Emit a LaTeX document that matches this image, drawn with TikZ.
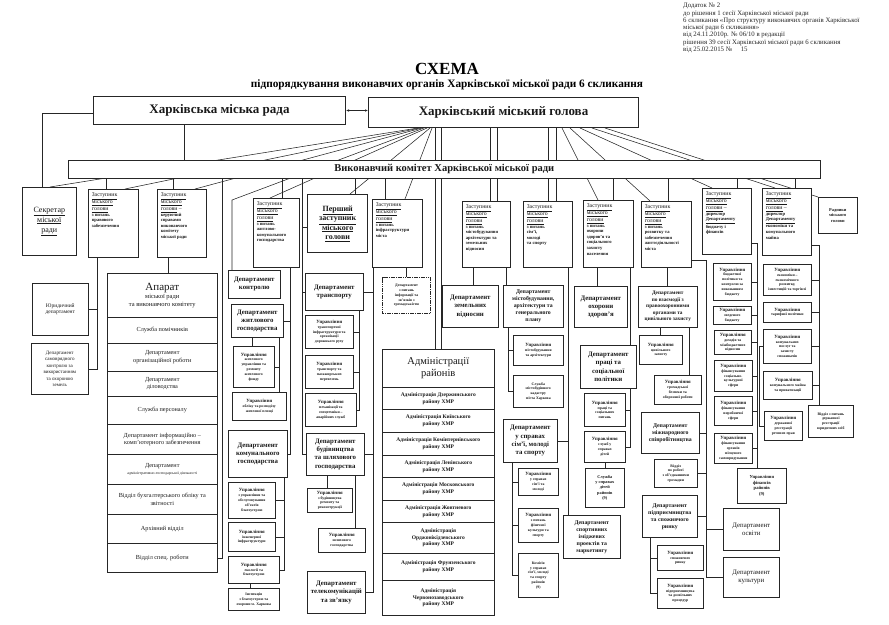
\documentclass[tikz,border=0pt]{standalone}
\usepackage{fontspec}
\setmainfont{Liberation Serif}
\usetikzlibrary{arrows.meta}
\pgfdeclarelayer{bg}
\pgfsetlayers{bg,main}
\newcommand{\DTf}{\fontsize{5.8}{7.2}\selectfont}
\newcommand{\DSf}{\fontsize{4.6}{5.6}\selectfont\bfseries}
\newcommand{\Up}{{\fontsize{4.8}{5.6}\selectfont Управління}}
\newcommand{\CB}[7]{\node[#1, minimum width={#5-#3}, minimum height={#6-#4}, anchor=north west] (#2) at (#3,#4) {#7};}
\newcommand{\DEP}[7]{\node[dbox, anchor=north west] (#1) at (#2,#3) {\parbox[c][\dimexpr#5pt-#3pt\relax][t]{\dimexpr#4pt-#2pt\relax}{\raggedright\leftskip=3.5pt\vspace*{3pt}{\DTf#6\par}{\DSf#7\par}}};}
\tikzset{
 box/.style={draw=black!85, fill=white, line width=0.6pt, inner sep=1pt, align=center, text=black!90},
 depb/.style={box, font=\fontsize{6.8}{8.2}\selectfont\bfseries},
 deps/.style={box, font=\fontsize{5.8}{7}\selectfont\bfseries},
 uprb/.style={box, font=\fontsize{3.8}{4.8}\selectfont\bfseries},
 rowb/.style={box, font=\fontsize{6.2}{7.4}\selectfont},
 admrow/.style={box, font=\fontsize{5.5}{6.8}\selectfont\bfseries},
 dbox/.style={draw=black!85, fill=white, line width=0.6pt, inner sep=0pt, text=black!90},
 ln/.style={draw=black!85, line width=0.55pt},
}
\begin{document}
\begin{tikzpicture}[x=1pt,y=-1pt]
\useasboundingbox (0,0) rectangle (889,624);
% header
\node[anchor=north west, align=left, inner sep=0pt, font=\fontsize{6.8}{7.3}\selectfont, text=black!85] (hdr) at (683,3) {Додаток № 2\\до рішення 1 сесії Харківської міської ради\\6 скликання «Про структуру виконавчих органів Харківської\\міської ради 6 скликання»\\від 24.11.2010р. № 06/10 в редакції\\рішення 39 сесії Харківської міської ради 6 скликання\\від 25.02.2015 № \phantom{00}15};
\node[font=\fontsize{17}{18}\selectfont\bfseries] (t1) at (447,69) {СХЕМА};
\node[font=\fontsize{11.3}{12.5}\selectfont\bfseries] (t2) at (447,85) {підпорядкування виконавчих органів Харківської міської ради 6 скликання};
% top
\CB{box, font=\fontsize{13}{14}\selectfont\bfseries, line width=1pt}{rada}{93}{96}{345}{124}{Харківська міська рада}
\CB{box, font=\fontsize{13}{14}\selectfont\bfseries, line width=1pt}{golova}{368}{97}{638}{127}{Харківський міський голова}
\CB{box, font=\fontsize{10.5}{12}\selectfont\bfseries}{vk}{68}{160}{820}{178}{Виконавчий комітет Харківської міської ради}
% deputies
\CB{box, font=\fontsize{8}{10}\selectfont}{sec}{22}{187}{76}{255}{\underline{Секретар}\\\underline{міської}\\\underline{ради}}
\DEP{d2}{88}{189}{138}{257}{\underline{Заступник}\\\underline{міського}\\\underline{голови}}{з питань\\правового\\забезпечення}
\DEP{d3}{157}{189}{206}{257}{\underline{Заступник}\\\underline{міського}\\\underline{голови} –}{керуючий\\справами\\виконавчого\\комітету\\міської ради}
\DEP{d4}{253}{198}{299}{267}{\underline{Заступник}\\\underline{міського}\\\underline{голови}}{з питань\\житлово-\\комунального\\господарства}
\CB{box, line width=1.4pt, font=\fontsize{8}{9.6}\selectfont\bfseries}{d5}{307}{194}{367}{252}{\underline{Перший}\\\underline{заступник}\\\underline{міського}\\\underline{голови}}
\DEP{d6}{372}{199}{422}{267}{\underline{Заступник}\\\underline{міського}\\\underline{голови}}{з питань\\інфраструктури\\міста}
\DEP{d7}{462}{201}{510}{267}{\underline{Заступник}\\\underline{міського}\\\underline{голови}}{з питань\\містобудування\\архітектури та\\земельних\\відносин}
\DEP{d8}{523}{201}{572}{267}{\underline{Заступник}\\\underline{міського}\\\underline{голови}}{з питань\\сім'ї,\\молоді\\та спорту}
\DEP{d9}{583}{200}{633}{267}{\underline{Заступник}\\\underline{міського}\\\underline{голови}}{з питань\\охорони\\здоров'я та\\соціального\\захисту\\населення}
\DEP{d10}{641}{201}{691}{267}{\underline{Заступник}\\\underline{міського}\\\underline{голови}}{з питань\\розвитку та\\забезпечення\\життєдіяльності\\міста}
\DEP{d11}{702}{188}{751}{254}{\underline{Заступник}\\\underline{міського}\\\underline{голови} –}{директор\\\underline{Департаменту}\\бюджету і\\фінансів}
\DEP{d12}{762}{188}{811}{255}{\underline{Заступник}\\\underline{міського}\\\underline{голови} –}{директор\\\underline{Департаменту}\\економіки та\\комунального\\майна}
\CB{box, font=\fontsize{4.4}{5.4}\selectfont\bfseries}{radn}{818}{197}{857}{233}{Радники\\міського\\голови}
% left column
\CB{box, font=\fontsize{5.5}{6.6}\selectfont}{yur}{32}{283}{88}{335}{Юридичний\\департамент}
\CB{box, font=\fontsize{5}{6.4}\selectfont}{samk}{31}{343}{88}{394}{Департамент\\самоврядного\\контролю за\\використанням\\та охороною\\земель}
% apparat
\CB{box, font=\fontsize{6.5}{7.8}\selectfont}{aph}{107}{273}{217}{317}{{\fontsize{11}{12}\selectfont Апарат}\\міської ради\\та виконавчого комітету}
\CB{rowb}{ap1}{107}{317}{217}{343}{Служба помічників}
\CB{rowb}{ap2}{107}{343}{217}{371}{Департамент\\організаційної роботи}
\CB{rowb}{ap3}{107}{371}{217}{396}{Департамент\\діловодства}
\CB{rowb}{ap4}{107}{396}{217}{424}{Служба персоналу}
\CB{rowb}{ap5}{107}{424}{217}{454}{Департамент інформаційно –\\комп'ютерного забезпечення}
\CB{rowb}{ap6}{107}{454}{217}{484}{Департамент\\{\fontsize{3.9}{5}\selectfont адміністративно-господарської діяльності}}
\CB{rowb}{ap7}{107}{484}{217}{514}{Відділ бухгалтерського обліку та\\звітності}
\CB{rowb}{ap8}{107}{514}{217}{543}{Архівний відділ}
\CB{rowb}{ap9}{107}{543}{217}{572}{Відділ спец. роботи}
% d4 column
\CB{depb}{kontr}{228}{270}{280}{298}{Департамент\\контролю}
\CB{depb}{zhytl}{231}{304}{283}{337}{Департамент\\житлового\\господарства}
\CB{uprb}{uzhf}{233}{346}{274}{387}{\Up\\житлового\\управління та\\ремонту\\житлового\\фонду}
\CB{uprb}{uobl}{232}{392}{286}{420}{\Up\\обліку та розподілу\\житлової площі}
\CB{depb}{komun}{228}{430}{287}{477}{Департамент\\комунального\\господарства}
\CB{uprb}{ublag}{228}{482}{275}{518}{\Up\\з управління та\\обслуговування\\об'єктів\\благоустрою}
\CB{uprb}{uinzh}{228}{522}{275}{551}{\Up\\інженерної\\інфраструктури}
\CB{uprb}{ueko}{228}{556}{279}{583}{\Up\\екології та\\благоустрою}
\CB{uprb}{insp}{228}{588}{279}{610}{Інспекція\\з благоустрою та\\охорони м. Харкова}
% first deputy / d6 column
\CB{depb}{trans}{305}{273}{363}{310}{Департамент\\транспорту}
\CB{uprb}{utinfr}{305}{315}{353}{348}{\Up\\транспортної\\інфраструктури та\\організації\\дорожнього руху}
\CB{uprb}{utpas}{305}{355}{353}{388}{\Up\\транспорту та\\пасажирських\\перевезень}
\CB{uprb}{umeh}{305}{393}{356}{426}{\Up\\механізації та\\спецтехніки –\\аварійних служб}
\CB{depb}{bud}{306}{433}{364}{475}{Департамент\\будівництва\\та шляхового\\господарства}
\CB{uprb}{ubud}{307}{488}{352}{512}{\Up\\з будівництва\\ремонту та\\реконструкції}
\CB{uprb}{ushl}{318}{528}{365}{552}{\Up\\шляхового\\господарства}
\CB{depb}{tele}{307}{571}{365}{613}{Департамент\\телекомунікацій\\та зв'язку}
\CB{uprb, line width=1.1pt, dash pattern=on 1.6pt off 0.7pt}{inf}{382}{277}{430}{313}{Департамент\\з питань\\інформації та\\зв'язків з\\громадськістю}
% administrations
\CB{box, font=\fontsize{10.5}{12.5}\selectfont}{adh}{382}{349}{494}{387}{Адміністрації\\районів}
\CB{admrow}{ad1}{382}{387}{494}{409}{Адміністрація Дзержинського\\району ХМР}
\CB{admrow}{ad2}{382}{409}{494}{432}{Адміністрація Київського\\району ХМР}
\CB{admrow}{ad3}{382}{432}{494}{455}{Адміністрація Комінтернівського\\району ХМР}
\CB{admrow}{ad4}{382}{455}{494}{477}{Адміністрація Ленінського\\району ХМР}
\CB{admrow}{ad5}{382}{477}{494}{500}{Адміністрація Московського\\району ХМР}
\CB{admrow}{ad6}{382}{500}{494}{522}{Адміністрація Жовтневого\\району ХМР}
\CB{admrow}{ad7}{382}{522}{494}{553}{Адміністрація\\Орджонікідзевського\\району ХМР}
\CB{admrow}{ad8}{382}{553}{494}{580}{Адміністрація Фрунзенського\\району ХМР}
\CB{admrow}{ad9}{382}{580}{494}{615}{Адміністрація\\Червонозаводського\\району ХМР}
% d7
\CB{depb}{zem}{442}{285}{498}{327}{Департамент\\земельних\\відносин}
\CB{deps}{mist}{503}{285}{563}{327}{Департамент\\містобудування,\\архітектури та\\генерального\\плану}
\CB{uprb}{umist}{513}{335}{563}{365}{\Up\\містобудування\\та архітектури}
\CB{uprb}{skad}{513}{375}{563}{407}{Служба\\містобудівного\\кадастру\\міста Харкова}
% d8
\CB{depb}{sim}{503}{419}{557}{462}{Департамент\\у справах\\сім'ї, молоді\\та спорту}
\CB{uprb}{usim}{518}{468}{558}{495}{\Up\\у справах\\сім'ї та\\молоді}
\CB{uprb}{usport}{518}{508}{558}{542}{\Up\\з питань\\фізичної\\культури та\\спорту}
\CB{uprb}{komis}{518}{553}{558}{597}{Комісія\\у справах\\сім'ї, молоді\\та спорту\\районів\\(9)}
\CB{deps}{sportim}{563}{515}{620}{558}{Департамент\\спортивних\\іміджевих\\проектів та\\маркетингу}
% d9
\CB{depb}{ohor}{574}{286}{627}{327}{Департамент\\охорони\\здоров'я}
\CB{depb}{prac}{580}{345}{636}{388}{Департамент\\праці та\\соціальної\\політики}
\CB{uprb}{uprac}{584}{393}{625}{426}{\Up\\праці та\\соціальних\\питань}
\CB{uprb}{usld}{584}{431}{625}{462}{\Up\\служб у\\справах\\дітей}
\CB{uprb, font=\fontsize{4.3}{5.3}\selectfont\bfseries}{sldr}{585}{468}{624}{507}{Служба\\у справах\\дітей\\районів\\(9)}
% d10
\CB{box, font=\fontsize{5.3}{6.5}\selectfont\bfseries}{vzaem}{638}{286}{697}{327}{Департамент\\по взаємодії з\\правоохоронними\\органами та\\цивільного захисту}
\CB{uprb}{ucz}{639}{335}{682}{364}{\Up\\цивільного\\захисту}
\CB{uprb}{ugb}{654}{375}{701}{404}{\Up\\громадської\\безпеки та\\оборонної роботи}
\CB{deps}{mizhn}{641}{412}{699}{453}{Департамент\\міжнародного\\співробітництва}
\CB{uprb}{vgrom}{654}{459}{697}{487}{Відділ\\по роботі\\з об'єднаннями\\громадян}
\CB{deps}{pidpr}{642}{495}{697}{537}{Департамент\\підприємництва\\та споживчого\\ринку}
\CB{uprb}{uspr}{657}{545}{703}{570}{\Up\\споживчого\\ринку}
\CB{uprb}{upidpr}{657}{578}{703}{608}{\Up\\підприємництва\\та дозвільних\\процедур}
\CB{box, font=\fontsize{6.8}{8.2}\selectfont}{osv}{723}{508}{779}{550}{Департамент\\освіти}
\CB{box, font=\fontsize{6.8}{8.2}\selectfont}{kult}{723}{557}{779}{597}{Департамент\\культури}
% d11
\CB{uprb}{f1}{713}{263}{751}{300}{\Up\\бюджетної\\політики та\\контролю за\\виконанням\\бюджету}
\CB{uprb}{f2}{713}{306}{751}{324}{\Up\\зведеного\\бюджету}
\CB{uprb}{f3}{714}{330}{751}{354}{\Up\\доходів та\\міжбюджетних\\відносин}
\CB{uprb}{f4}{714}{360}{752}{391}{\Up\\фінансування\\соціально-\\культурної\\сфери}
\CB{uprb}{f5}{714}{396}{752}{425}{\Up\\фінансування\\виробничої\\сфери}
\CB{uprb}{f6}{714}{433}{752}{463}{\Up\\фінансування\\органів\\місцевого\\самоврядування}
\CB{uprb, font=\fontsize{4.6}{5.6}\selectfont\bfseries}{fr}{737}{468}{786}{503}{Управління\\фінансів\\районів\\(9)}
% d12
\CB{uprb}{e1}{763}{264}{811}{295}{\Up\\економіки –\\економічного\\розвитку,\\інвестицій та торгівлі}
\CB{uprb}{e2}{763}{302}{811}{322}{\Up\\тарифної політики}
\CB{uprb}{e3}{763}{329}{811}{363}{\Up\\комунальних\\послуг та\\захисту\\споживачів}
\CB{uprb}{e4}{763}{371}{812}{399}{\Up\\комунального майна\\та приватизації}
\CB{uprb}{e5}{764}{411}{802}{440}{\Up\\державної\\реєстрації\\речових прав}
\CB{uprb}{vzdr}{808}{405}{853}{437}{Відділ з питань\\державної\\реєстрації\\юридичних осіб}
% ---------- connectors
\begin{pgfonlayer}{bg}
\draw[ln, {Latex[length=3pt,width=2.5pt]}-{Latex[length=3pt,width=2.5pt]}] (rada.east) -- (rada.east -| golova.west);
\draw[ln] (184,0 |- rada.south) -- (184,0 |- vk.north);
\draw[ln] (rada.west |- 0,113) -- (42,113) -- (42,0 |- sec.north);
% fans from the mayor
\draw[ln] (418,0 |- golova.south) -- (50,0 |- sec.north);
\draw[ln] (420,0 |- golova.south) -- (125,0 |- d2.north);
\draw[ln] (422,0 |- golova.south) -- (195,0 |- d3.north);
\draw[ln] (424,0 |- golova.south) -- (232,200) -- (232,0 |- kontr.north);
\draw[ln] (427,0 |- golova.south) -- (270,0 |- d4.north);
\draw[ln] (430,0 |- golova.south) -- (350,0 |- d5.north);
\draw[ln] (432,0 |- golova.south) -- (405,0 |- d6.north);
\draw[ln] (435,0 |- golova.south) -- (435,0 |- adh.north);
\draw[ln] (441,0 |- golova.south) -- (441,0 |- adh.north);
\draw[ln] (490,0 |- golova.south) -- (490,0 |- d7.north);
\draw[ln] (497,0 |- golova.south) -- (497,0 |- d7.north);
\draw[ln] (548,0 |- golova.south) -- (548,0 |- d8.north);
\draw[ln] (556,0 |- golova.south) -- (556,0 |- d8.north);
\draw[ln] (562,0 |- golova.south) -- (598,0 |- d9.north);
\draw[ln] (570,0 |- golova.south) -- (650,0 |- d10.north);
\draw[ln] (580,0 |- golova.south) -- (712,0 |- d11.north);
\draw[ln] (592,0 |- golova.south) -- (775,0 |- d12.north);
\draw[ln] (605,0 |- golova.south) -- (radn.north west);
% from the committee bar
\foreach \xx/\nn in {106/d2,173/d3,282/d4,355/d5,385/d6,613/d9,668/d10,737/d11,795/d12}
  \draw[ln] (\xx,0 |- vk.south) -- (\xx,0 |- \nn.north);
\draw[ln] (222,0 |- vk.south) -- (222,0 |- ap9.east) -- (ap9.east);
\draw[ln] (168,0 |- d3.south) -- (168,0 |- aph.north);
\draw[ln] (97,0 |- d2.south) -- (97,0 |- samk.east) -- (samk.east);
\draw[ln] (yur.east) -- (97,0 |- yur.east);
% d4 column
\draw[ln] (290,0 |- d4.south) -- (290,0 |- komun.east) -- (komun.east);
\draw[ln] (zhytl.east) -- (290,0 |- zhytl.east);
\draw[ln] (252,0 |- zhytl.south) -- (252,0 |- uzhf.north);
\draw[ln] (279,0 |- zhytl.south) -- (279,0 |- uobl.north);
\draw[ln] (uzhf.east) -- (279,0 |- uzhf.east);
\draw[ln] (284,0 |- komun.south) -- (284,0 |- ueko.east) -- (ueko.east);
\draw[ln] (ublag.east) -- (284,0 |- ublag.east);
\draw[ln] (uinzh.east) -- (284,0 |- uinzh.east);
\draw[ln] (250,0 |- ueko.south) -- (250,0 |- insp.north);
% first deputy
\draw[ln] (302,0 |- vk.south) -- (302,0 |- bud.west) -- (bud.west);
\draw[ln] (d5.west |- 0,227) -- (302,227);
\draw[ln] (trans.west) -- (302,0 |- trans.west);
% d6 line
\draw[ln] (373,0 |- d6.south) -- (373,0 |- tele.east) -- (tele.east);
\draw[ln] (trans.east) -- (373,0 |- trans.east);
\draw[ln] (bud.east) -- (373,0 |- bud.east);
\draw[ln] (406,0 |- d6.south) -- (406,0 |- inf.north);
\draw[ln] (359,0 |- trans.south) -- (359,0 |- umeh.east) -- (umeh.east);
\draw[ln] (utinfr.east) -- (359,0 |- utinfr.east);
\draw[ln] (utpas.east) -- (359,0 |- utpas.east);
\draw[ln] (327,0 |- bud.south) -- (327,0 |- ubud.north);
\draw[ln] (355,0 |- bud.south) -- (355,0 |- ushl.north);
% d7
\draw[ln] (473,0 |- d7.south) -- (473,0 |- zem.north);
\draw[ln] (506,0 |- d7.south) -- (506,0 |- mist.north);
\draw[ln] (508,0 |- mist.south) -- (508,0 |- skad.west) -- (skad.west);
\draw[ln] (umist.west) -- (508,0 |- umist.west);
% d8
\draw[ln] (568,0 |- d8.south) -- (568,0 |- sportim.north);
\draw[ln] (sim.east) -- (568,0 |- sim.east);
\draw[ln] (512,0 |- sim.south) -- (512,0 |- komis.west) -- (komis.west);
\draw[ln] (usim.west) -- (512,0 |- usim.west);
\draw[ln] (usport.west) -- (512,0 |- usport.west);
% d9
\draw[ln] (597,0 |- d9.south) -- (597,0 |- ohor.north);
\draw[ln] (630,0 |- d9.south) -- (630,0 |- prac.north);
\draw[ln] (630,0 |- prac.south) -- (630,0 |- usld.east) -- (usld.east);
\draw[ln] (uprac.east) -- (630,0 |- uprac.east);
\draw[ln] (605,0 |- usld.south) -- (605,0 |- sldr.north);
% d10
\draw[ln] (667,0 |- d10.south) -- (667,0 |- vzaem.north);
\draw[ln] (d10.east |- 0,260) -- (706,260) -- (706,0 |- kult.west) -- (kult.west);
\draw[ln] (mizhn.east) -- (706,0 |- mizhn.east);
\draw[ln] (vgrom.east) -- (706,0 |- vgrom.east);
\draw[ln] (pidpr.east) -- (706,0 |- pidpr.east);
\draw[ln] (osv.west) -- (706,0 |- osv.west);
\draw[ln] (660,0 |- vzaem.south) -- (660,0 |- ucz.north);
\draw[ln] (689,0 |- vzaem.south) -- (689,0 |- ugb.north);
\draw[ln] (650,0 |- pidpr.south) -- (650,0 |- upidpr.west) -- (upidpr.west);
\draw[ln] (uspr.west) -- (650,0 |- uspr.west);
% d11
\draw[ln] (d11.east |- 0,243) -- (757,243) -- (757,0 |- fr.north);
\foreach \nn in {f1,f2,f3,f4,f5,f6} \draw[ln] (\nn.east) -- (757,0 |- \nn.east);
% d12
\draw[ln] (d12.east |- 0,245) -- (819,245) -- (819,0 |- vzdr.north);
\foreach \nn in {e1,e2,e3,e4} \draw[ln] (\nn.east) -- (819,0 |- \nn.east);
\draw[ln] (e3.west) -- (759,0 |- e3.west) -- (759,0 |- e5.west) -- (e5.west);
\end{pgfonlayer}
\end{tikzpicture}
\end{document}
